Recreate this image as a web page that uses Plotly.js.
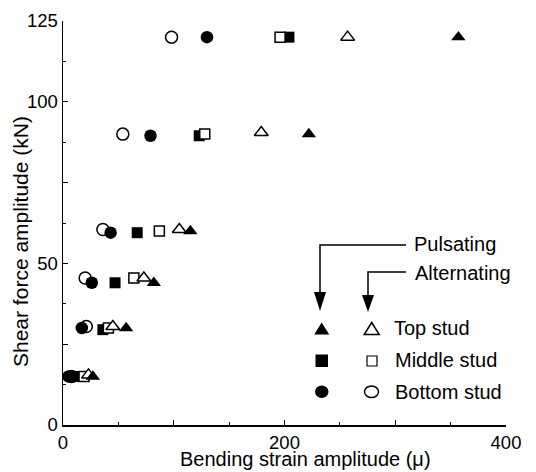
<!DOCTYPE html>
<html>
<head>
<meta charset="utf-8">
<script src="https://cdn.plot.ly/plotly-3.0.1.min.js"></script>
<style>html,body{margin:0;padding:0;background:#fff;}#chart{width:536px;height:472px;}</style>
</head>
<body>
<div id="chart"></div>
<script>
// Shear force levels (kN)
const topFilledY    = [15, 30, 44, 60, 90, 120];
const topFilledX    = [27, 57, 82, 115, 222, 357];
const topOpenY      = [15.5, 30.5, 45.5, 60.5, 90.5, 120];
const topOpenX      = [23, 45, 73, 105, 179, 257];
const midFilledY    = [15, 29.5, 44, 59.5, 89.5, 120];
const midFilledX    = [12, 36, 47, 67, 123, 204];
const midOpenY      = [15, 30, 45.5, 60, 90, 120];
const midOpenX      = [19, 41, 64, 87, 128, 196];
const botFilledY    = [15, 30, 44, 59.5, 89.5, 120];
const botFilledX    = [5, 17, 26, 43, 79, 130];
const botOpenY      = [15, 30.5, 45.5, 60.5, 90, 120];
const botOpenX      = [8, 21, 20, 36, 54, 98];

const xTickVals = [0, 100, 200, 300, 400];
const xTickText = ['0', '', '200', '', '400'];
const yTickVals = [0, 25, 50, 75, 100, 125];
const yTickText = ['0', '', '50', '', '100', '125'];
const xTitle = 'Bending strain amplitude (\u03bc)';
const yTitle = 'Shear force amplitude (kN)';

const FONT = 'Liberation Sans, Arial, Helvetica, sans-serif';
const L = 63, T = 21, W = 443, H = 404;
const px = x => (x - L) / W;
const py = y => (T + H - y) / H;

function mk(x, y, sym, filled, size) {
  return {
    x: x, y: y, type: 'scatter', mode: 'markers', showlegend: false, hoverinfo: 'x+y',
    marker: {
      symbol: sym, size: size,
      color: filled ? '#000' : '#fff',
      line: {color: '#000', width: filled ? 0 : 1.5}
    }
  };
}

const data = [
  mk(botOpenX, botOpenY, 'circle', false, 12),
  mk(botFilledX, botFilledY, 'circle', true, 12.5),
  mk(midFilledX, midFilledY, 'square', true, 11),
  mk(midOpenX, midOpenY, 'square', false, 10),
  mk(topOpenX, topOpenY, 'triangle-up', false, 12),
  mk(topFilledX, topFilledY, 'triangle-up', true, 12.5)
];

function tri(cx, cy, w, h) {
  return 'M' + px(cx - w/2) + ',' + py(cy + h/2) + ' L' + px(cx + w/2) + ',' + py(cy + h/2) +
         ' L' + px(cx) + ',' + py(cy - h/2) + ' Z';
}
function polyline(pts) {
  return pts.map((p, i) => (i ? 'L' : 'M') + px(p[0]) + ',' + py(p[1])).join(' ');
}
function arrowHead(cx, top, tip, w) {
  return 'M' + px(cx - w/2) + ',' + py(top) + ' L' + px(cx + w/2) + ',' + py(top) +
         ' L' + px(cx) + ',' + py(tip) + ' Z';
}
const blk = {color: '#000', width: 1.5};
const shapes = [
  // arrows
  {type: 'path', xref: 'paper', yref: 'paper', path: polyline([[406, 245], [320, 245], [320, 293]]), line: blk},
  {type: 'path', xref: 'paper', yref: 'paper', path: arrowHead(320, 292, 311, 12), fillcolor: '#000', line: {width: 0}},
  {type: 'path', xref: 'paper', yref: 'paper', path: polyline([[406, 272], [368, 272], [368, 296]]), line: blk},
  {type: 'path', xref: 'paper', yref: 'paper', path: arrowHead(368, 295, 312, 12), fillcolor: '#000', line: {width: 0}},
  // legend keys
  {type: 'path', xref: 'paper', yref: 'paper', path: tri(321.7, 328.5, 15, 12), fillcolor: '#000', line: {width: 0}},
  {type: 'path', xref: 'paper', yref: 'paper', path: tri(371.7, 328.5, 15, 12), fillcolor: '#fff', line: blk},
  {type: 'rect', xref: 'paper', yref: 'paper', x0: px(315.5), x1: px(328), y0: py(367), y1: py(354.5), fillcolor: '#000', line: {width: 0}},
  {type: 'rect', xref: 'paper', yref: 'paper', x0: px(367), x1: px(377), y0: py(366), y1: py(356), fillcolor: '#fff', line: {color: '#000', width: 1.2}},
  {type: 'circle', xref: 'paper', yref: 'paper', x0: px(315), x1: px(328.5), y0: py(398), y1: py(385.5), fillcolor: '#000', line: {width: 0}},
  {type: 'circle', xref: 'paper', yref: 'paper', x0: px(364.5), x1: px(378.5), y0: py(397.5), y1: py(386), fillcolor: '#fff', line: blk}
];

function txt(t, x, y) {
  return {text: t, xref: 'paper', yref: 'paper', x: px(x), y: py(y), xanchor: 'left', yanchor: 'middle',
          showarrow: false, font: {family: FONT, size: 20, color: '#000'}, borderpad: 0};
}
const annotations = [
  txt('Pulsating', 413, 244),
  txt('Alternating', 414, 273),
  txt('Top stud', 393, 328),
  txt('Middle stud', 394, 360),
  txt('Bottom stud', 394, 392),
  // axis titles
  {text: xTitle, xref: 'paper', yref: 'paper', x: px(305), y: py(459), xanchor: 'center', yanchor: 'middle',
   showarrow: false, font: {family: FONT, size: 20, color: '#000'}, borderpad: 0},
  {text: yTitle, xref: 'paper', yref: 'paper', x: px(20), y: py(242), xanchor: 'center', yanchor: 'middle',
   textangle: -90, showarrow: false, font: {family: FONT, size: 21, color: '#000'}, borderpad: 0}
];

const layout = {
  width: 536, height: 472,
  margin: {l: L, r: 536 - L - W, t: T, b: 472 - T - H, pad: 0},
  paper_bgcolor: '#fff', plot_bgcolor: '#fff',
  font: {family: FONT, color: '#000', size: 18.5},
  showlegend: false,
  xaxis: {
    range: [0, 400], showgrid: false, zeroline: false, showline: true, linecolor: '#000', linewidth: 1.5,
    tickmode: 'array', tickvals: xTickVals, ticktext: xTickText,
    ticks: 'inside', ticklen: 5, tickwidth: 1.2, tickcolor: '#000',
    minor: {dtick: 50, ticks: 'inside', ticklen: 3, tickwidth: 1, tickcolor: '#000', showgrid: false},
    tickfont: {family: FONT, size: 18.5, color: '#000'},
    automargin: false, fixedrange: true
  },
  yaxis: {
    range: [0, 125], showgrid: false, zeroline: false, showline: true, linecolor: '#000', linewidth: 1.5,
    tickmode: 'array', tickvals: yTickVals, ticktext: yTickText,
    ticks: 'inside', ticklen: 5, tickwidth: 1.2, tickcolor: '#000',
    minor: {dtick: 12.5, ticks: 'inside', ticklen: 3, tickwidth: 1, tickcolor: '#000', showgrid: false},
    tickfont: {family: FONT, size: 18.5, color: '#000'},
    automargin: false, fixedrange: true
  },
  shapes: shapes,
  annotations: annotations
};

Plotly.newPlot('chart', data, layout, {displayModeBar: false, staticPlot: true});
</script>
</body>
</html>
